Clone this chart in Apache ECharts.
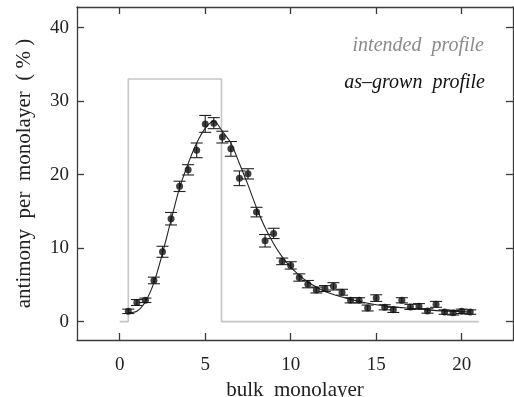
<!DOCTYPE html>
<html>
<head>
<meta charset="utf-8">
<script src="https://cdn.jsdelivr.net/npm/echarts@6/dist/echarts.min.js"></script>
<style>
  html, body { margin: 0; padding: 0; background: #fff; }
  #chart { width: 514px; height: 397px; }
</style>
</head>
<body>
<div id="chart"></div>
<script>
// Monolayer positions of the measurements
const monolayer = [0.5, 1, 1.5, 2, 2.5, 3, 3.5, 4, 4.5, 5, 5.5, 6, 6.5, 7, 7.5, 8, 8.5, 9, 9.5, 10,
  10.5, 11, 11.5, 12, 12.5, 13, 13.5, 14, 14.5, 15, 15.5, 16, 16.5, 17, 17.5, 18, 18.5, 19, 19.5, 20, 20.5];
// Measured antimony content (%) and its uncertainty
const measured = [1.4, 2.6, 2.9, 5.6, 9.5, 14.0, 18.4, 20.65, 23.3, 26.9, 27.0, 25.1, 23.5, 19.5, 20.1, 14.9,
  11.0, 12.0, 8.2, 7.65, 6.0, 5.1, 4.3, 4.5, 4.8, 4.0, 2.9, 2.9, 1.85, 3.2, 1.95, 1.6, 2.9, 2.0, 2.1, 1.45,
  2.35, 1.3, 1.2, 1.4, 1.3];
const uncertainty = [0.3, 0.4, 0.3, 0.45, 0.75, 0.85, 0.7, 0.7, 1.0, 1.15, 0.75, 0.8, 1.0, 1.0, 0.7, 0.65,
  0.85, 0.7, 0.45, 0.5, 0.5, 0.5, 0.4, 0.4, 0.5, 0.4, 0.35, 0.35, 0.4, 0.45, 0.35, 0.35, 0.35, 0.35, 0.35, 0.3,
  0.4, 0.3, 0.3, 0.3, 0.3];
// Fitted as-grown profile
const fitted = [1.2, 1.4, 2.7, 5.3, 9.3, 13.8, 18.2, 21.5, 24.3, 26.3, 27.3, 25.9, 24.3, 21.5, 18.6, 15.5,
  12.8, 10.6, 8.8, 7.4, 6.3, 5.4, 4.7, 4.1, 3.7, 3.35, 3.0, 2.75, 2.5, 2.3, 2.15, 2.0, 1.9, 1.8, 1.7, 1.6,
  1.5, 1.45, 1.4, 1.35, 1.3];
// Intended (nominal) profile
const intendedX = [0, 0.5, 0.5, 5.95, 5.95, 21];
const intendedY = [0, 0, 33, 33, 0, 0];
// Tick labels
const xTicks = [0, 5, 10, 15, 20];
const yTicks = [0, 10, 20, 30, 40];

const serif = '"Liberation Serif", "DejaVu Serif", serif';
const axisColor = '#3a3a3a';

const chart = echarts.init(document.getElementById('chart'), null, { renderer: 'canvas' });

function xAxisDef(pos, labels) {
  return {
    type: 'value', position: pos, min: -2.5, max: 23,
    axisLine: { show: true, onZero: false, lineStyle: { color: axisColor, width: 1.3 } },
    axisTick: { show: true, inside: true, length: 7, customValues: xTicks, lineStyle: { color: axisColor, width: 1.3 } },
    axisLabel: { show: labels, customValues: xTicks, margin: 16, color: '#222', fontFamily: serif, fontSize: 19 },
    splitLine: { show: false },
    name: labels ? 'bulk  monolayer' : '',
    nameLocation: 'middle', nameGap: 36,
    nameTextStyle: { color: '#222', fontFamily: serif, fontSize: 21 }
  };
}
function yAxisDef(pos, labels) {
  return {
    type: 'value', position: pos, min: -2.5, max: 42.8,
    axisLine: { show: true, onZero: false, lineStyle: { color: axisColor, width: 1.3 } },
    axisTick: { show: true, inside: true, length: 7, customValues: yTicks, lineStyle: { color: axisColor, width: 1.3 } },
    axisLabel: { show: labels, customValues: yTicks, margin: 8, color: '#222', fontFamily: serif, fontSize: 19 },
    splitLine: { show: false },
    name: labels ? 'antimony  per  monolayer  ( % )' : '',
    nameLocation: 'middle', nameGap: 42, nameRotate: 90,
    nameTextStyle: { color: '#222', fontFamily: serif, fontSize: 21 }
  };
}

const errorData = monolayer.map((x, i) => [x, measured[i] - uncertainty[i], measured[i] + uncertainty[i]]);

chart.setOption({
  animation: false,
  backgroundColor: '#fff',
  grid: { left: 77, right: 1, top: 7, bottom: 57, containLabel: false, outerBoundsMode: 'none' },
  xAxis: [xAxisDef('bottom', true), xAxisDef('top', false)],
  yAxis: [yAxisDef('left', true), yAxisDef('right', false)],
  graphic: [
    { type: 'text', right: 30, top: 36, style: { text: 'intended  profile', fill: '#8a8a8a',
      font: 'italic 20px ' + serif, textAlign: 'right' } },
    { type: 'text', right: 29, top: 73, style: { text: 'as\u2013grown  profile', fill: '#111',
      font: 'italic 20px ' + serif, textAlign: 'right' } }
  ],
  series: [
    {
      name: 'intended', type: 'line', symbol: 'none',
      data: intendedX.map((x, i) => [x, intendedY[i]]),
      lineStyle: { color: '#c6c6c6', width: 1.6 }, z: 1
    },
    {
      name: 'fit', type: 'line', symbol: 'none', smooth: 0.3,
      data: monolayer.map((x, i) => [x, fitted[i]]),
      lineStyle: { color: '#222', width: 1.1 }, z: 2
    },
    {
      name: 'error', type: 'custom', z: 3,
      data: errorData,
      renderItem: function (params, api) {
        const x = api.value(0);
        const lo = api.coord([x, api.value(1)]);
        const hi = api.coord([x, api.value(2)]);
        const hw = 6;
        const style = { stroke: '#222', lineWidth: 1.1, fill: null };
        return {
          type: 'group',
          children: [
            { type: 'line', shape: { x1: lo[0], y1: lo[1], x2: hi[0], y2: hi[1] }, style },
            { type: 'line', shape: { x1: lo[0] - hw, y1: lo[1], x2: lo[0] + hw, y2: lo[1] }, style },
            { type: 'line', shape: { x1: hi[0] - hw, y1: hi[1], x2: hi[0] + hw, y2: hi[1] }, style }
          ]
        };
      }
    },
    {
      name: 'measured', type: 'scatter', symbol: 'circle', symbolSize: 7, z: 4,
      data: monolayer.map((x, i) => [x, measured[i]]),
      itemStyle: { color: '#111' }
    }
  ]
});
</script>
</body>
</html>
